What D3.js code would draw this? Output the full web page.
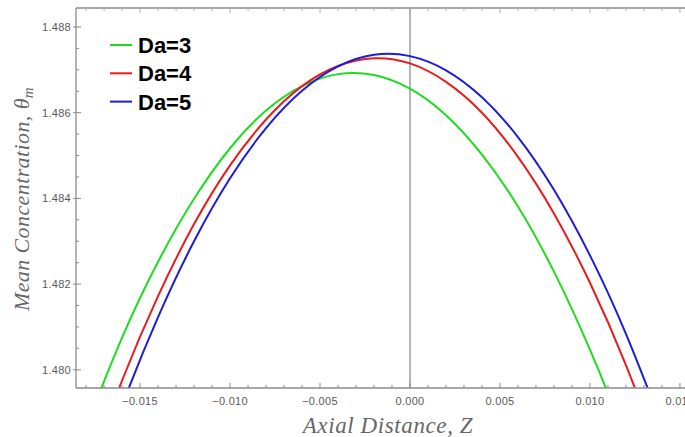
<!DOCTYPE html>
<html>
<head>
<meta charset="utf-8">
<script src="https://cdn.jsdelivr.net/npm/d3@7"></script>
<style>
  html, body { margin: 0; padding: 0; background: #fff; }
  svg { display: block; }
</style>
</head>
<body>
<svg id="chart" width="685" height="437"></svg>
<script>
// ---- Data ----
const zValues = [-0.018, -0.016, -0.014, -0.012, -0.010, -0.008, -0.006, -0.004, -0.002,
                 0.000, 0.002, 0.004, 0.006, 0.008, 0.010, 0.012, 0.014];
const da3 = [1.47867, 1.48075, 1.48252, 1.48399, 1.48517, 1.48605, 1.48662, 1.48690, 1.48688,
             1.48656, 1.48594, 1.48502, 1.48381, 1.48229, 1.48047, 1.47836, 1.47594];
const da4 = [1.47748, 1.47975, 1.48172, 1.48340, 1.48477, 1.48584, 1.48662, 1.48709, 1.48727,
             1.48715, 1.48672, 1.48600, 1.48497, 1.48365, 1.48203, 1.48011, 1.47788];
const da5 = [1.47679, 1.47916, 1.48123, 1.48300, 1.48447, 1.48564, 1.48651, 1.48708, 1.48735,
             1.48732, 1.48699, 1.48636, 1.48543, 1.48420, 1.48267, 1.48084, 1.47871];
const seriesNames = ["Da=3", "Da=4", "Da=5"];
const seriesColors = ["#1fdc1f", "#e81c1c", "#1c1cd8"];
const xTickValues = [-0.015, -0.010, -0.005, 0.000, 0.005, 0.010, 0.015];
const yTickValues = [1.480, 1.482, 1.484, 1.486, 1.488];
const xDomain = [-0.01856, 0.01556];
const yDomain = [1.479575, 1.488443];

// ---- Layout ----
const svg = d3.select("#chart");
const L = 76, R = 690, T = 8, B = 388;
const x = d3.scaleLinear().domain(xDomain).range([L, R]);
const y = d3.scaleLinear().domain(yDomain).range([B, T]);

const frameColor = "#8a8a8a";
const labelColor = "#5a5a5a";

svg.append("defs").append("clipPath").attr("id", "clip")
  .append("rect").attr("x", L).attr("y", T).attr("width", R - L).attr("height", B - T);

// vertical line at z = 0
svg.append("line")
  .attr("x1", x(0)).attr("x2", x(0)).attr("y1", T).attr("y2", B)
  .attr("stroke", "#7a7a7a").attr("stroke-width", 1.1);

// curves
const allSeries = [da3, da4, da5];
const line = d3.line().x(d => x(d[0])).y(d => y(d[1])).curve(d3.curveNatural);
const g = svg.append("g").attr("clip-path", "url(#clip)");
allSeries.forEach((vals, i) => {
  g.append("path")
    .datum(zValues.map((z, j) => [z, vals[j]]))
    .attr("d", line)
    .attr("fill", "none")
    .attr("stroke", seriesColors[i])
    .attr("stroke-width", 2);
});

// frame
const frame = svg.append("g");
frame.append("line").attr("x1", L).attr("x2", L).attr("y1", T).attr("y2", B)
  .attr("stroke", frameColor).attr("stroke-width", 1.3);
frame.append("line").attr("x1", L).attr("x2", R).attr("y1", B).attr("y2", B)
  .attr("stroke", frameColor).attr("stroke-width", 1.3);
frame.append("line").attr("x1", L).attr("x2", R).attr("y1", T).attr("y2", T)
  .attr("stroke", frameColor).attr("stroke-width", 1.3);

// minor ticks
const xMinor = d3.range(-18, 16).map(k => k / 1000);
const yMinor = d3.range(0, 18).map(k => 1.4795 + k * 0.0005).filter(v => v >= yDomain[0] && v <= yDomain[1]);

// bottom axis ticks (inward)
const bottom = svg.append("g");
bottom.selectAll("line.minor").data(xMinor).join("line")
  .attr("x1", d => x(d)).attr("x2", d => x(d))
  .attr("y1", B).attr("y2", d => xTickValues.some(t => Math.abs(t - d) < 1e-9) ? B - 5 : B - 3)
  .attr("stroke", frameColor).attr("stroke-width", 1);
bottom.selectAll("text").data(xTickValues).join("text")
  .attr("x", d => x(d)).attr("y", 405)
  .attr("text-anchor", "middle")
  .attr("font-family", "Liberation Sans, Arial, sans-serif")
  .attr("font-size", 11).attr("fill", labelColor)
  .attr("letter-spacing", 0.3)
  .text(d => d3.format(".3f")(d));

// top ticks
svg.append("g").selectAll("line").data(xMinor).join("line")
  .attr("x1", d => x(d)).attr("x2", d => x(d))
  .attr("y1", T).attr("y2", d => xTickValues.some(t => Math.abs(t - d) < 1e-9) ? T + 5 : T + 3)
  .attr("stroke", "#b0b0b0").attr("stroke-width", 1);

// left axis ticks
const left = svg.append("g");
left.selectAll("line").data(yMinor).join("line")
  .attr("x1", L).attr("x2", d => yTickValues.some(t => Math.abs(t - d) < 1e-9) ? L + 5 : L + 3)
  .attr("y1", d => y(d)).attr("y2", d => y(d))
  .attr("stroke", frameColor).attr("stroke-width", 1);
left.selectAll("line.out").data(yTickValues).join("line")
  .attr("x1", L - 3).attr("x2", L)
  .attr("y1", d => y(d)).attr("y2", d => y(d))
  .attr("stroke", frameColor).attr("stroke-width", 1);
left.selectAll("text").data(yTickValues).join("text")
  .attr("x", 71).attr("y", d => y(d) + 4)
  .attr("text-anchor", "end")
  .attr("font-family", "Liberation Sans, Arial, sans-serif")
  .attr("font-size", 11).attr("fill", labelColor)
  .attr("letter-spacing", 0.3)
  .text(d => d3.format(".3f")(d));

// axis titles
svg.append("text")
  .attr("x", 388).attr("y", 433)
  .attr("text-anchor", "middle")
  .attr("font-family", "Liberation Serif, Times New Roman, serif")
  .attr("font-style", "italic").attr("font-size", 23).attr("fill", "#666")
  .attr("letter-spacing", 0.6)
  .text("Axial Distance, Z");

const yt = svg.append("text")
  .attr("transform", "translate(29,199) rotate(-90)")
  .attr("text-anchor", "middle")
  .attr("font-family", "Liberation Serif, Times New Roman, serif")
  .attr("font-style", "italic").attr("font-size", 22).attr("fill", "#666")
  .attr("letter-spacing", 0.4);
yt.append("tspan").text("Mean Concentration, θ");
yt.append("tspan").attr("font-size", 15).attr("dy", 4).text("m");

// legend
const legend = svg.append("g");
seriesNames.forEach((name, i) => {
  const yy = 45 + i * 28.3;
  legend.append("line")
    .attr("x1", 110).attr("x2", 132).attr("y1", yy).attr("y2", yy)
    .attr("stroke", seriesColors[i]).attr("stroke-width", 2);
  legend.append("text")
    .attr("x", 138).attr("y", yy + 8)
    .attr("font-family", "Liberation Sans, Arial, sans-serif")
    .attr("font-weight", "bold").attr("font-size", 22).attr("fill", "#000")
    .text(name);
});
</script>
</body>
</html>
